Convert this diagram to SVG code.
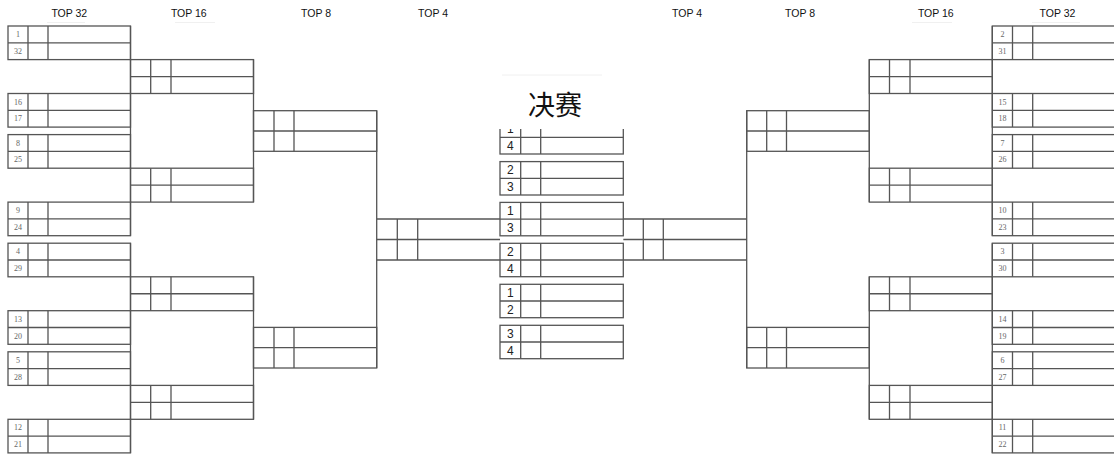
<svg xmlns="http://www.w3.org/2000/svg" width="1114" height="456" viewBox="0 0 1114 456">
<style>
.b{fill:none;stroke:#555;stroke-width:1.3}
.c{fill:none;stroke:#555;stroke-width:1.3}
.s{font-family:"Liberation Serif",serif;font-size:8px;fill:#666;text-anchor:middle}
.f{font-family:"Liberation Sans",Arial,sans-serif;font-size:12px;fill:#222;text-anchor:middle}
.h{font-family:"Liberation Sans",Arial,sans-serif;font-size:10.5px;fill:#111;text-anchor:middle}
.t{font-family:"Noto Sans CJK SC",sans-serif;font-size:27px;fill:#111;text-anchor:middle}
.fa{fill:none;stroke:#f0f0f0;stroke-width:1}
</style>
<rect width="1114" height="456" fill="#fff"/>
<g id="headers">
<text class="h" x="69.3" y="16.7">TOP 32</text>
<text class="h" x="188.8" y="16.7">TOP 16</text>
<text class="h" x="316" y="16.7">TOP 8</text>
<text class="h" x="433" y="16.7">TOP 4</text>
<text class="h" x="687" y="16.7">TOP 4</text>
<text class="h" x="800" y="16.7">TOP 8</text>
<text class="h" x="935.8" y="16.7">TOP 16</text>
<text class="h" x="1057.5" y="16.7">TOP 32</text>
<path class="fa" d="M47 22.5H85M175 22.5H215M912 22.5H952M1032 22.5H1080M502 75H602"/>
</g>
<g id="connectors">
<path class="c" d="M130.5 26V235.7M130.5 243.2V452.9M253.5 59.6V202.1M253.5 276.8V419.3M376.7 110.7V368M746.7 110.7V368M869.3 59.6V202.1M869.3 276.8V419.3M992.3 26V235.7M992.3 243.2V452.9"/>
</g>
<g id="L32-1"><rect class="b" x="8" y="26" width="122.5" height="33.6"/><path class="b" d="M8 42.8H130.5M28 26V59.6M48 26V59.6"/><text class="s" x="18" y="37">1</text><text class="s" x="18" y="53.8">32</text></g>
<g id="L32-2"><rect class="b" x="8" y="93.5" width="122.5" height="33.6"/><path class="b" d="M8 110.3H130.5M28 93.5V127.1M48 93.5V127.1"/><text class="s" x="18" y="104.5">16</text><text class="s" x="18" y="121.3">17</text></g>
<g id="L32-3"><rect class="b" x="8" y="134.6" width="122.5" height="33.6"/><path class="b" d="M8 151.4H130.5M28 134.6V168.2M48 134.6V168.2"/><text class="s" x="18" y="145.6">8</text><text class="s" x="18" y="162.4">25</text></g>
<g id="L32-4"><rect class="b" x="8" y="202.1" width="122.5" height="33.6"/><path class="b" d="M8 218.9H130.5M28 202.1V235.7M48 202.1V235.7"/><text class="s" x="18" y="213.1">9</text><text class="s" x="18" y="229.9">24</text></g>
<g id="L32-5"><rect class="b" x="8" y="243.2" width="122.5" height="33.6"/><path class="b" d="M8 260H130.5M28 243.2V276.8M48 243.2V276.8"/><text class="s" x="18" y="254.2">4</text><text class="s" x="18" y="271">29</text></g>
<g id="L32-6"><rect class="b" x="8" y="310.7" width="122.5" height="33.6"/><path class="b" d="M8 327.5H130.5M28 310.7V344.3M48 310.7V344.3"/><text class="s" x="18" y="321.7">13</text><text class="s" x="18" y="338.5">20</text></g>
<g id="L32-7"><rect class="b" x="8" y="351.8" width="122.5" height="33.6"/><path class="b" d="M8 368.6H130.5M28 351.8V385.4M48 351.8V385.4"/><text class="s" x="18" y="362.8">5</text><text class="s" x="18" y="379.6">28</text></g>
<g id="L32-8"><rect class="b" x="8" y="419.3" width="122.5" height="33.6"/><path class="b" d="M8 436.1H130.5M28 419.3V452.9M48 419.3V452.9"/><text class="s" x="18" y="430.3">12</text><text class="s" x="18" y="447.1">21</text></g>
<g id="L16-1"><rect class="b" x="130.5" y="59.6" width="123" height="33.9"/><path class="b" d="M130.5 76.55H253.5M150.7 59.6V93.5M171 59.6V93.5"/></g>
<g id="L16-2"><rect class="b" x="130.5" y="168.2" width="123" height="33.9"/><path class="b" d="M130.5 185.15H253.5M150.7 168.2V202.1M171 168.2V202.1"/></g>
<g id="L16-3"><rect class="b" x="130.5" y="276.8" width="123" height="33.9"/><path class="b" d="M130.5 293.75H253.5M150.7 276.8V310.7M171 276.8V310.7"/></g>
<g id="L16-4"><rect class="b" x="130.5" y="385.4" width="123" height="33.9"/><path class="b" d="M130.5 402.35H253.5M150.7 385.4V419.3M171 385.4V419.3"/></g>
<g id="L8-1"><rect class="b" x="253.5" y="110.7" width="123.2" height="40.6"/><path class="b" d="M253.5 131H376.7M274 110.7V151.3M294 110.7V151.3"/></g>
<g id="L8-2"><rect class="b" x="253.5" y="327.4" width="123.2" height="40.6"/><path class="b" d="M253.5 347.7H376.7M274 327.4V368M294 327.4V368"/></g>
<g id="L4-1"><path class="b" d="M376.7 219H500M376.7 239.5H500M376.7 260H500M397.3 219V260M417.7 219V260"/></g>
<g id="F-1"><rect class="b" x="500" y="120.6" width="123.3" height="33.4"/><path class="b" d="M500 137.3H623.3M520.7 120.6V154M540.7 120.6V154"/><text class="f" x="510.3" y="133.2">1</text><text class="f" x="510.3" y="149.9">4</text></g>
<g id="F-2"><rect class="b" x="500" y="161.6" width="123.3" height="33.4"/><path class="b" d="M500 178.3H623.3M520.7 161.6V195M540.7 161.6V195"/><text class="f" x="510.3" y="174.2">2</text><text class="f" x="510.3" y="190.9">3</text></g>
<g id="F-3"><rect class="b" x="500" y="202.4" width="123.3" height="33.4"/><path class="b" d="M500 219.1H623.3M520.7 202.4V235.8M540.7 202.4V235.8"/><text class="f" x="510.3" y="215">1</text><text class="f" x="510.3" y="231.7">3</text></g>
<g id="F-4"><rect class="b" x="500" y="243.3" width="123.3" height="33.4"/><path class="b" d="M500 260H623.3M520.7 243.3V276.7M540.7 243.3V276.7"/><text class="f" x="510.3" y="255.9">2</text><text class="f" x="510.3" y="272.6">4</text></g>
<g id="F-5"><rect class="b" x="500" y="284.3" width="123.3" height="33.4"/><path class="b" d="M500 301H623.3M520.7 284.3V317.7M540.7 284.3V317.7"/><text class="f" x="510.3" y="296.9">1</text><text class="f" x="510.3" y="313.6">2</text></g>
<g id="F-6"><rect class="b" x="500" y="325.3" width="123.3" height="33.4"/><path class="b" d="M500 342H623.3M520.7 325.3V358.7M540.7 325.3V358.7"/><text class="f" x="510.3" y="337.9">3</text><text class="f" x="510.3" y="354.6">4</text></g>
<g id="title"><rect x="494" y="78" width="136" height="51" fill="#fff"/><text class="t" x="555" y="115">决赛</text></g>
<g id="R4-1"><path class="b" d="M623.3 219H746.7M623.3 239.5H746.7M623.3 260H746.7M643.3 219V260M663.3 219V260"/></g>
<g id="R8-1"><rect class="b" x="746.7" y="110.7" width="122.6" height="40.6"/><path class="b" d="M746.7 131H869.3M766.7 110.7V151.3M786.5 110.7V151.3"/></g>
<g id="R8-2"><rect class="b" x="746.7" y="327.4" width="122.6" height="40.6"/><path class="b" d="M746.7 347.7H869.3M766.7 327.4V368M786.5 327.4V368"/></g>
<g id="R16-1"><rect class="b" x="869.3" y="59.6" width="123" height="33.9"/><path class="b" d="M869.3 76.55H992.3M889.5 59.6V93.5M910 59.6V93.5"/></g>
<g id="R16-2"><rect class="b" x="869.3" y="168.2" width="123" height="33.9"/><path class="b" d="M869.3 185.15H992.3M889.5 168.2V202.1M910 168.2V202.1"/></g>
<g id="R16-3"><rect class="b" x="869.3" y="276.8" width="123" height="33.9"/><path class="b" d="M869.3 293.75H992.3M889.5 276.8V310.7M910 276.8V310.7"/></g>
<g id="R16-4"><rect class="b" x="869.3" y="385.4" width="123" height="33.9"/><path class="b" d="M869.3 402.35H992.3M889.5 385.4V419.3M910 385.4V419.3"/></g>
<g id="R32-1"><rect class="b" x="992.3" y="26" width="130" height="33.6"/><path class="b" d="M992.3 42.8H1114M1012.5 26V59.6M1032.7 26V59.6"/><text class="s" x="1002.5" y="37">2</text><text class="s" x="1002.5" y="53.8">31</text></g>
<g id="R32-2"><rect class="b" x="992.3" y="93.5" width="130" height="33.6"/><path class="b" d="M992.3 110.3H1114M1012.5 93.5V127.1M1032.7 93.5V127.1"/><text class="s" x="1002.5" y="104.5">15</text><text class="s" x="1002.5" y="121.3">18</text></g>
<g id="R32-3"><rect class="b" x="992.3" y="134.6" width="130" height="33.6"/><path class="b" d="M992.3 151.4H1114M1012.5 134.6V168.2M1032.7 134.6V168.2"/><text class="s" x="1002.5" y="145.6">7</text><text class="s" x="1002.5" y="162.4">26</text></g>
<g id="R32-4"><rect class="b" x="992.3" y="202.1" width="130" height="33.6"/><path class="b" d="M992.3 218.9H1114M1012.5 202.1V235.7M1032.7 202.1V235.7"/><text class="s" x="1002.5" y="213.1">10</text><text class="s" x="1002.5" y="229.9">23</text></g>
<g id="R32-5"><rect class="b" x="992.3" y="243.2" width="130" height="33.6"/><path class="b" d="M992.3 260H1114M1012.5 243.2V276.8M1032.7 243.2V276.8"/><text class="s" x="1002.5" y="254.2">3</text><text class="s" x="1002.5" y="271">30</text></g>
<g id="R32-6"><rect class="b" x="992.3" y="310.7" width="130" height="33.6"/><path class="b" d="M992.3 327.5H1114M1012.5 310.7V344.3M1032.7 310.7V344.3"/><text class="s" x="1002.5" y="321.7">14</text><text class="s" x="1002.5" y="338.5">19</text></g>
<g id="R32-7"><rect class="b" x="992.3" y="351.8" width="130" height="33.6"/><path class="b" d="M992.3 368.6H1114M1012.5 351.8V385.4M1032.7 351.8V385.4"/><text class="s" x="1002.5" y="362.8">6</text><text class="s" x="1002.5" y="379.6">27</text></g>
<g id="R32-8"><rect class="b" x="992.3" y="419.3" width="130" height="33.6"/><path class="b" d="M992.3 436.1H1114M1012.5 419.3V452.9M1032.7 419.3V452.9"/><text class="s" x="1002.5" y="430.3">11</text><text class="s" x="1002.5" y="447.1">22</text></g>
</svg>
